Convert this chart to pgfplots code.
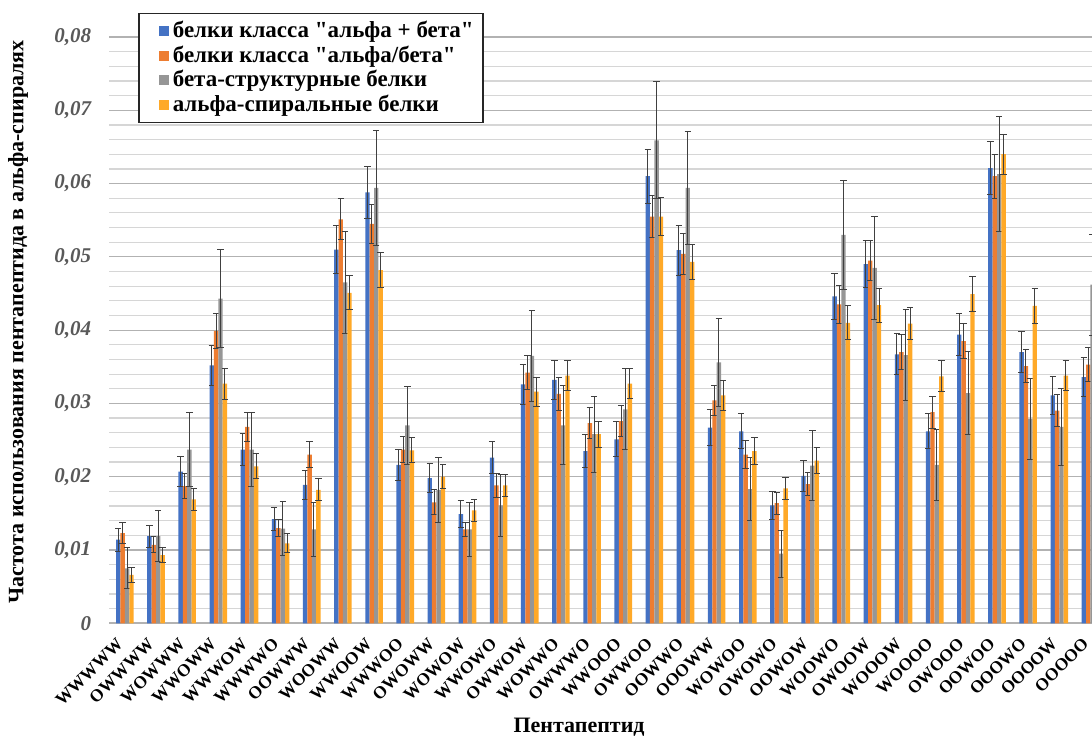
\documentclass[border=0pt]{standalone}
\usepackage{pgfplots}
\pgfplotsset{compat=1.18}
\usepackage{pgfplotstable}
\usepackage{fontspec}
\setmainfont{Liberation Serif}
\newcommand\sq{\XeTeXglyph\XeTeXcharglyph"22\relax}
\definecolor{cblue}{HTML}{4472C4}
\definecolor{corange}{HTML}{ED7D31}
\definecolor{cgray}{HTML}{969696}
\definecolor{cyellow}{HTML}{FFA928}
\definecolor{ticktxt}{HTML}{595959}

\pgfplotstableread{
x  b      be     o      oe     g      ge     y      ye
0  0.0114 0.0016 0.0123 0.0014 0.0075 0.0028 0.0066 0.0010
1  0.0119 0.0015 0.0107 0.0011 0.0119 0.0035 0.0093 0.0010
2  0.0207 0.0021 0.0187 0.0017 0.0237 0.0050 0.0169 0.0015
3  0.0352 0.0027 0.0399 0.0024 0.0443 0.0067 0.0327 0.0021
4  0.0237 0.0022 0.0268 0.0020 0.0237 0.0050 0.0214 0.0017
5  0.0142 0.0016 0.0130 0.0012 0.0129 0.0037 0.0109 0.0013
6  0.0189 0.0020 0.0230 0.0018 0.0128 0.0037 0.0182 0.0015
7  0.0510 0.0033 0.0551 0.0028 0.0465 0.0070 0.0451 0.0023
8  0.0588 0.0035 0.0545 0.0027 0.0594 0.0078 0.0482 0.0024
9  0.0216 0.0021 0.0237 0.0018 0.0270 0.0053 0.0236 0.0017
10 0.0198 0.0020 0.0165 0.0017 0.0182 0.0044 0.0200 0.0016
11 0.0149 0.0018 0.0128 0.0010 0.0128 0.0037 0.0154 0.0015
12 0.0226 0.0022 0.0188 0.0017 0.0161 0.0042 0.0188 0.0015
13 0.0326 0.0027 0.0342 0.0023 0.0365 0.0062 0.0316 0.0020
14 0.0332 0.0027 0.0313 0.0023 0.0270 0.0054 0.0338 0.0021
15 0.0235 0.0023 0.0273 0.0021 0.0258 0.0052 0.0258 0.0018
16 0.0251 0.0024 0.0276 0.0021 0.0292 0.0055 0.0327 0.0020
17 0.0610 0.0037 0.0555 0.0029 0.0659 0.0080 0.0555 0.0026
18 0.0509 0.0034 0.0504 0.0028 0.0594 0.0077 0.0493 0.0024
19 0.0267 0.0025 0.0304 0.0021 0.0356 0.0060 0.0311 0.0020
20 0.0262 0.0024 0.0230 0.0019 0.0183 0.0043 0.0235 0.0018
21 0.0161 0.0019 0.0164 0.0015 0.0095 0.0032 0.0184 0.0015
22 0.0201 0.0021 0.0190 0.0016 0.0215 0.0048 0.0222 0.0018
23 0.0446 0.0031 0.0435 0.0026 0.0530 0.0074 0.0410 0.0023
24 0.0490 0.0032 0.0495 0.0027 0.0485 0.0070 0.0434 0.0023
25 0.0367 0.0028 0.0370 0.0024 0.0366 0.0062 0.0409 0.0022
26 0.0262 0.0024 0.0288 0.0022 0.0216 0.0049 0.0337 0.0021
27 0.0394 0.0029 0.0385 0.0024 0.0314 0.0057 0.0449 0.0024
28 0.0621 0.0036 0.0610 0.0030 0.0613 0.0078 0.0640 0.0027
29 0.0370 0.0028 0.0351 0.0022 0.0279 0.0055 0.0433 0.0024
30 0.0311 0.0026 0.0290 0.0022 0.0268 0.0053 0.0338 0.0020
31 0.0336 0.0026 0.0353 0.0023 0.0462 0.0069 0.0400 0.0022
}\data

\begin{document}
\begin{tikzpicture}
\begin{axis}[
  scale only axis, width=491.35pt, height=293.15pt,
  xmin=-0.5, xmax=31.05, ymin=0, ymax=0.08,
  ybar=0pt, bar width=2.2pt,
  axis x line*=bottom, axis y line*=left,
  x axis line style={draw=black!30, line width=0.8pt, -},
  y axis line style={draw=none},
  scaled y ticks=false,
  xtick={0,...,31},
  xticklabels={WWWWW,OWWWW,WOWWW,WWOWW,WWWOW,WWWWO,OOWWW,WOOWW,WWOOW,WWWOO,OWOWW,WOWOW,WWOWO,OWWOW,WOWWO,OWWWO,WWOOO,OWWOO,OOWWO,OOOWW,WOWOO,OWOWO,OOWOW,WOOWO,OWOOW,WOOOW,WOOOO,OWOOO,OOWOO,OOOWO,OOOOW,OOOOO},
  xticklabel style={rotate=45, anchor=east, font=\bfseries\fontsize{8.7}{10}\selectfont, text=black},
  xticklabel shift=6.5pt,
  ytick={0,0.01,0.02,0.03,0.04,0.05,0.06,0.07,0.08},
  yticklabels={0,{0,01},{0,02},{0,03},{0,04},{0,05},{0,06},{0,07},{0,08}},
  yticklabel style={font=\bfseries\itshape\fontsize{10.5}{12}\selectfont, text=ticktxt, xshift=-5.5pt},
  minor y tick num=4,
  major tick length=0pt, minor tick length=0pt,
  ymajorgrids, yminorgrids,
  major grid style={draw=black!30, line width=0.6pt},
  minor grid style={draw=black!16, line width=0.6pt},
  ylabel={Частота использования пентапептида в альфа-спиралях},
  ylabel style={at={(axis description cs:-0.0929,0.514)}, anchor=center, font=\bfseries\fontsize{11}{13}\selectfont},
  xlabel={Пентапептид},
  xlabel style={at={(axis description cs:0.478,-0.1769)}, anchor=center, font=\bfseries\fontsize{11}{13}\selectfont},
  legend style={at={(axis description cs:0,1)}, anchor=north west, xshift=14.35pt, yshift=12.15pt,
    draw=black!85, line width=0.8pt, fill=white, font=\bfseries\fontsize{11.5}{13}\selectfont,
    cells={anchor=west}, row sep=-1.5pt, inner xsep=2.5pt, inner ysep=2pt},
  legend image code/.code={\path (0pt,0pt); \fill[#1] (7.5pt,-2.6pt) rectangle (12.5pt,2.4pt);},
  error bars/error bar style={black!75, line width=0.5pt},
  error bars/error mark options={rotate=90, black!75, mark size=1.6pt, line width=0.5pt},
]
\addplot[fill=cblue, draw=none, error bars/.cd, y dir=both, y explicit] table[x=x, y=b, y error=be]{\data};
\addlegendentry{белки класса \sq альфа + бета\sq}
\addplot[fill=corange, draw=none, error bars/.cd, y dir=both, y explicit] table[x=x, y=o, y error=oe]{\data};
\addlegendentry{белки класса \sq альфа/бета\sq}
\addplot[fill=cgray, draw=none, error bars/.cd, y dir=both, y explicit] table[x=x, y=g, y error=ge]{\data};
\addlegendentry{бета-структурные белки}
\addplot[fill=cyellow, draw=none, error bars/.cd, y dir=both, y explicit] table[x=x, y=y, y error=ye]{\data};
\addlegendentry{альфа-спиральные белки}
\coordinate (bl) at (rel axis cs:0,0);
\coordinate (tr) at (rel axis cs:1,1);
\end{axis}
\pgfresetboundingbox
\path[use as bounding box] ([xshift=-54.65pt,yshift=-56.85pt]bl) rectangle ([yshift=18.5pt]tr);
\end{tikzpicture}
\end{document}
